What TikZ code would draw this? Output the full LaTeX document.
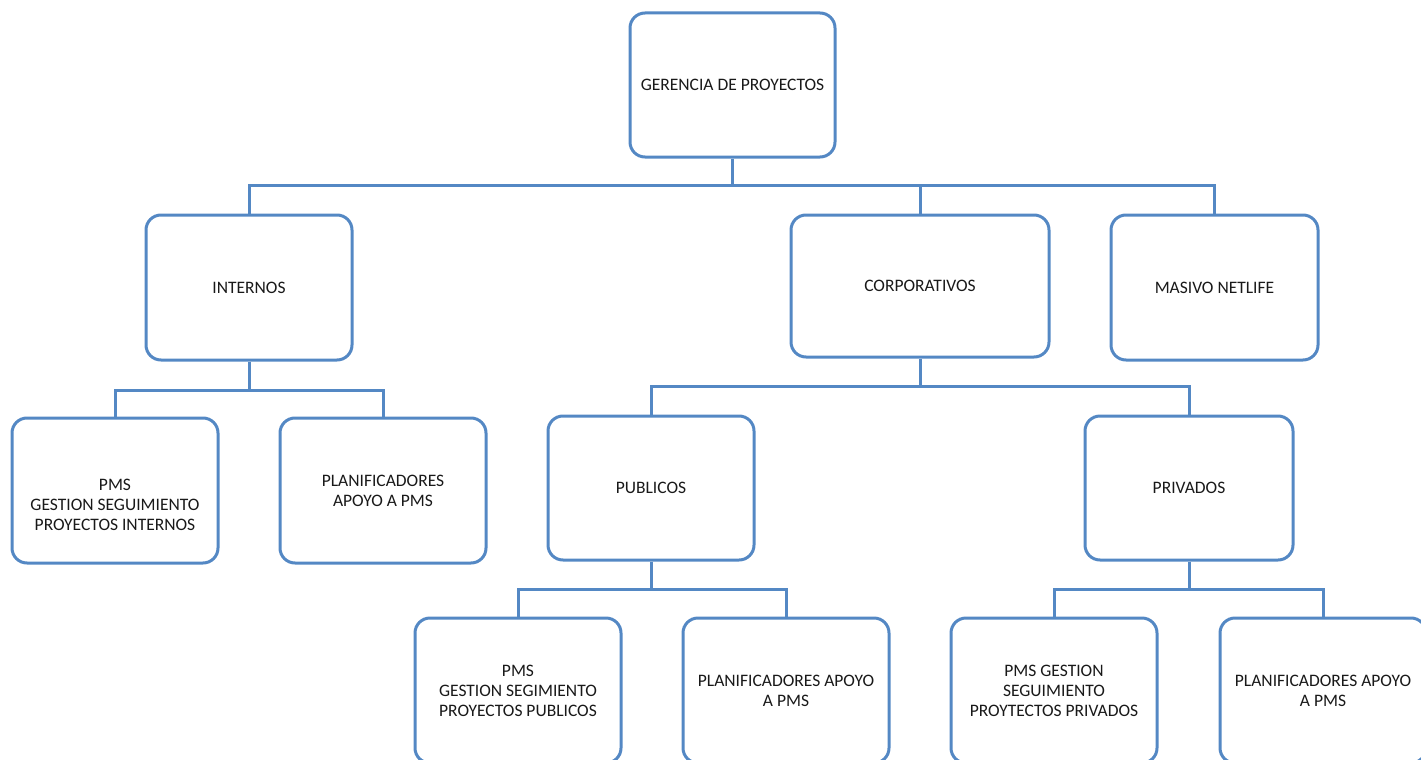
\documentclass[tikz,border=0pt]{standalone}
\usepackage{fontspec}
\setmainfont{Carlito}
\definecolor{lineblue}{RGB}{84,136,196}
\definecolor{inkgray}{RGB}{25,25,25}
\tikzset{
  orgbox/.style={draw=lineblue, line width=3pt, rounded corners=15pt, fill=white,
    inner sep=0pt, minimum width=206pt, minimum height=145pt,
    align=center, text=inkgray, font=\fontsize{17.5}{20}\selectfont},
  orgtext/.style={inner sep=0pt, align=center, text=inkgray, font=\fontsize{17.5}{20}\selectfont},
  link/.style={draw=lineblue, line width=3pt}
}
\begin{document}
\begin{tikzpicture}[x=1pt, y=-1pt]
  \useasboundingbox (0,0) rectangle (1421,760);
  \clip (0,0) rectangle (1421,760);

  % heights of the horizontal bus lines
  \coordinate (topbus) at (0,185);
  \coordinate (intbus) at (0,390);
  \coordinate (corpbus) at (0,386);
  \coordinate (pubbus) at (0,589);

  % level 0
  \node[orgbox, minimum width=205pt, minimum height=144pt] (ger) at (732.5,85) {GERENCIA DE PROYECTOS};

  % level 1
  \node[orgbox] (int) at (249,287.5) {INTERNOS};
  \node[orgbox, minimum width=258pt, minimum height=142pt] (corp) at (920,286) {CORPORATIVOS};
  \node[orgbox, minimum width=207pt] (mas) at (1214.5,287.5) {MASIVO NETLIFE};

  % level 2
  \node[orgbox] (pmsint) at (115,490.5) {};
  \node[orgtext] (pmsinttext) at (115,505) {PMS\\GESTION SEGUIMIENTO\\PROYECTOS INTERNOS};
  \node[orgbox] (planint) at (383,490.5) {PLANIFICADORES\\APOYO A PMS};
  \node[orgbox, minimum height=144pt] (pub) at (651,488) {PUBLICOS};
  \node[orgbox, minimum width=208pt, minimum height=144pt] (priv) at (1189,488) {PRIVADOS};

  % level 3
  \node[orgbox] (pmspub) at (518,690.5) {PMS\\GESTION SEGIMIENTO\\PROYECTOS PUBLICOS};
  \node[orgbox] (planpub) at (786,690.5) {PLANIFICADORES APOYO\\A PMS};
  \node[orgbox] (pmspriv) at (1054,690.5) {PMS GESTION\\SEGUIMIENTO\\PROYTECTOS PRIVADOS};
  \node[orgbox] (planpriv) at (1323,690.5) {PLANIFICADORES APOYO\\A PMS};

  % elbow connectors
  \draw[link] (ger.south) -- (ger.south |- topbus) -| (int.north);
  \draw[link] (ger.south |- topbus) -| (corp.north);
  \draw[link] (ger.south |- topbus) -| (mas.north);

  \draw[link] (int.south) -- (int.south |- intbus) -| (pmsint.north);
  \draw[link] (int.south |- intbus) -| (planint.north);

  \draw[link] (corp.south) -- (corp.south |- corpbus) -| (pub.north);
  \draw[link] (corp.south |- corpbus) -| (priv.north);

  \draw[link] (pub.south) -- (pub.south |- pubbus) -| (pmspub.north);
  \draw[link] (pub.south |- pubbus) -| (planpub.north);

  \draw[link] (priv.south) -- (priv.south |- pubbus) -| (pmspriv.north);
  \draw[link] (priv.south |- pubbus) -| (planpriv.north);
\end{tikzpicture}
\end{document}
